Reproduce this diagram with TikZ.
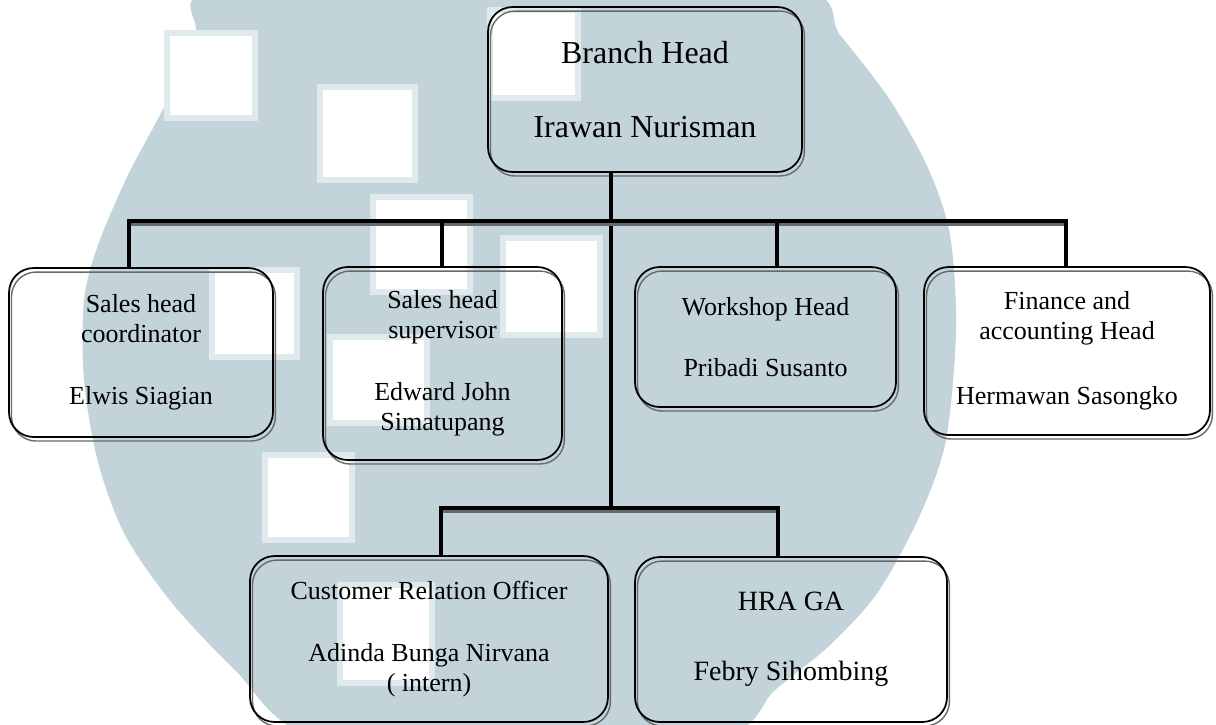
\documentclass[tikz,border=0pt]{standalone}
\usepackage{fontspec}
\setmainfont{Liberation Serif}
\definecolor{logo}{RGB}{194,211,218}
\definecolor{shade}{RGB}{105,105,105}
\tikzset{
  box/.style={draw, line width=1pt, rounded corners=14pt, inner sep=0pt, align=center,
    preaction={draw=shade, line width=0.8pt, transform canvas={xshift=1.4pt, yshift=-2.3pt}}},
  bigtext/.style={font=\fontsize{18.2}{21.3}\selectfont},
  midtext/.style={font=\fontsize{14.8}{17.1}\selectfont},
  hratext/.style={font=\fontsize{15.9}{19}\selectfont},
  bar/.style={line width=2.8pt, line cap=rect,
    preaction={draw=shade, line width=2pt, transform canvas={yshift=-1.6pt}}},
  drop/.style={line width=2.2pt},
  sq/.style={fill=white, draw=logo!50, line width=3pt}
}
\begin{document}
\begin{tikzpicture}[x=0.02cm, y=-0.02cm]
  \useasboundingbox (0,0) rectangle (1216,724);
  \begin{scope}
    \clip (0,0) rectangle (1216,724);
    \fill[logo] plot[smooth cycle] coordinates {(215,-10) (520,-15) (800,-10) (840,35) (890,100)
      (928,168) (950,235) (956,330) (946,440) (920,515) (878,592) (830,645) (775,690) (725,735)
      (520,745) (310,735) (235,670) (172,603) (125,535) (98,462) (84,380) (84,300) (98,245)
      (128,175) (165,105) (195,35)};
    \foreach \x/\y/\w/\h in {320/87/95/93, 373/197/97/95, 503/238/97/97, 212/270/85/87,
      330/337/97/86, 265/455/87/85, 340/585/92/98, 167/33/88/85, 490/10/88/88}
      \draw[sq] (\x,\y) rectangle ++(\w,\h);
  \end{scope}

  \node[box, bigtext, minimum width=6.28cm, minimum height=3.3cm] (head) at (645,89.5)
    {Branch Head\\[21.3pt]Irawan Nurisman};
  \node[box, midtext, minimum width=5.28cm, minimum height=3.38cm] (coord) at (141,352.5)
    {Sales head\\coordinator\\[18pt]Elwis Siagian};
  \node[box, midtext, minimum width=4.78cm, minimum height=3.86cm] (sup) at (442.5,363.5)
    {Sales head\\supervisor\\[18pt]Edward John\\Simatupang};
  \node[box, midtext, minimum width=5.22cm, minimum height=2.8cm] (work) at (765.5,337)
    {Workshop Head\\[17.6pt]Pribadi Susanto};
  \node[box, midtext, minimum width=5.72cm, minimum height=3.36cm] (fin) at (1067,351)
    {Finance and\\accounting Head\\[20pt]Hermawan Sasongko};
  \node[box, midtext, minimum width=7.16cm, minimum height=3.32cm] (cro) at (429,639)
    {Customer Relation Officer\\[18pt]Adinda Bunga Nirvana\\( intern)};
  \node[box, hratext, minimum width=6.24cm, minimum height=3.3cm] (hra) at (791,639.5)
    {HRA GA\\[21pt]Febry Sihombing};

  \coordinate (top) at (611,221);
  \coordinate (low) at (611,508);
  \coordinate (ua) at (129,221);
  \coordinate (ub) at (442,221);
  \coordinate (uc) at (777,221);
  \coordinate (ud) at (1066,221);
  \coordinate (la) at (441,508);
  \coordinate (lb) at (778,508);

  \draw[drop] (head.south -| top) -- (low);
  \draw[bar] (ua) -- (ud);
  \draw[bar] (la) -- (lb);
  \foreach \j/\n in {ua/coord, ub/sup, uc/work, ud/fin, la/cro, lb/hra}
    \draw[drop] (\j) -- (\j |- \n.north);
\end{tikzpicture}
\end{document}
